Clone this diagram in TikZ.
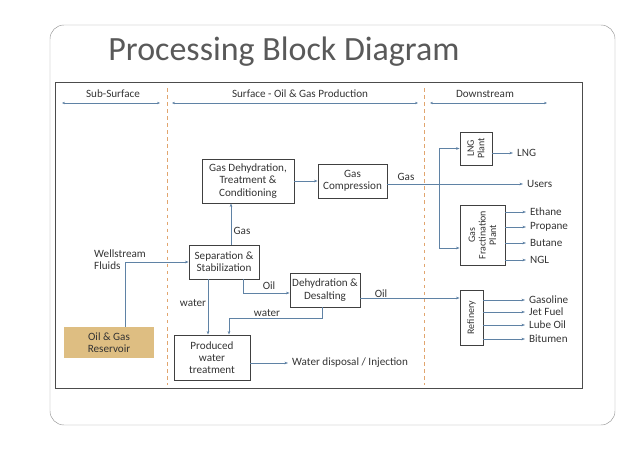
\documentclass[tikz,border=0pt]{standalone}
\usepackage{fontspec}
\setmainfont{Carlito}
\usetikzlibrary{arrows.meta}
\definecolor{flow}{RGB}{95,130,165}
\definecolor{sand}{RGB}{222,190,130}
\definecolor{zone}{RGB}{225,165,110}
\begin{document}
\begin{tikzpicture}[x=0.03cm,y=-0.03cm,
    lbl/.style={font=\fontsize{9.5}{10.5}\selectfont, text=black!80, align=center},
    box/.style={lbl, draw=black!75, thick, inner sep=0pt},
    vbox/.style={box, rotate=90, font=\fontsize{8.5}{9}\selectfont},
    line/.style={draw=flow, -{Stealth[length=3pt,width=2.2pt]}}]
  \useasboundingbox (0,0) rectangle (638,452);
  \draw[black!40, rounded corners=12pt] (50,25) rectangle (615,425);
  \node[text=black!65, font=\fontsize{29}{31}\selectfont] (title) at (284,52) {Processing Block Diagram};
  \draw[black!70] (55,82) rectangle (582,388);
  % zones
  \begin{scope}[every path/.style={draw=zone, dashed}]
    \path (167,88) -- (167,385);
    \path (424,88) -- (424,385);
  \end{scope}
  \node[lbl] (sub) at (113,94) {Sub-Surface};
  \node[lbl] (surf) at (300,94) {Surface - Oil \& Gas Production};
  \node[lbl] (down) at (485,94) {Downstream};
  \begin{scope}[every path/.style={draw=flow, {Stealth[length=2.5pt,width=2pt]}-{Stealth[length=2.5pt,width=2pt]}}]
    \path (62,103) -- (160,103);
    \path (172,103) -- (418,103);
    \path (430,103) -- (547,103);
  \end{scope}
  % process boxes
  \node[box, minimum width=92*0.03cm, minimum height=44*0.03cm] (gdh) at (248,181) {Gas Dehydration,\\Treatment \&\\Conditioning};
  \node[box, minimum width=69*0.03cm, minimum height=34*0.03cm] (gc) at (352.5,181) {Gas\\Compression};
  \node[box, minimum width=70*0.03cm, minimum height=34*0.03cm] (sep) at (224,262) {Separation \&\\Stabilization};
  \node[box, minimum width=70*0.03cm, minimum height=34*0.03cm] (dd) at (325,290) {Dehydration \&\\Desalting};
  \node[box, minimum width=76*0.03cm, minimum height=45*0.03cm] (pw) at (212,357.5) {Produced\\water\\treatment};
  \node[box, draw=none, fill=sand, minimum width=90*0.03cm, minimum height=31*0.03cm] (res) at (109,342.5) {Oil \& Gas\\Reservoir};
  \node[vbox, minimum width=33*0.03cm, minimum height=32*0.03cm] (lng) at (476,148.5) {LNG\\Plant};
  \node[vbox, minimum width=60*0.03cm, minimum height=45*0.03cm] (gf) at (482.5,235) {Gas\\Fractination\\Plant};
  \node[vbox, minimum width=55*0.03cm, minimum height=23*0.03cm] (ref) at (471.5,317.5) {Refinery};
  % labels
  \node[lbl, align=left] (wf) at (120,260) {Wellstream\\Fluids};
  \node[lbl] (gas1) at (242,231) {Gas};
  \node[lbl] (gas2) at (406,177) {Gas};
  \node[lbl] (oil1) at (269,286) {Oil};
  \node[lbl] (oil2) at (381,294) {Oil};
  \node[lbl] (w1) at (193,303) {water};
  \node[lbl] (w2) at (267,313) {water};
  \node[lbl, anchor=west] (wd) at (288,363) {Water disposal / Injection};
  \node[lbl, anchor=west] (lngo) at (513,153) {LNG};
  \node[lbl, anchor=west] (users) at (523,184) {Users};
  \node[lbl, anchor=west] (eth) at (526,212) {Ethane};
  \node[lbl, anchor=west] (pro) at (526,227) {Propane};
  \node[lbl, anchor=west] (but) at (526,243) {Butane};
  \node[lbl, anchor=west] (ngl) at (526,260) {NGL};
  \node[lbl, anchor=west] (gsl) at (525,300) {Gasoline};
  \node[lbl, anchor=west] (jet) at (525,312) {Jet Fuel};
  \node[lbl, anchor=west] (lube) at (525,325) {Lube Oil};
  \node[lbl, anchor=west] (bit) at (525,339) {Bitumen};
  % flows
  \draw[line] (res.north) ++(16,0) |- (sep.west);
  \draw[line] (sep.north -| 231,0) -- (gdh.south -| 231,0);
  \draw[line] (gdh.east) -- (gc.west);
  \draw[line] (gc.east |- 0,184) -- (users.west);
  \draw[line] (439,184) |- (lng.north);
  \draw[line] (439,184) |- (gf.north |- 0,248);
  \draw[line] (sep.south -| 208,0) -- (pw.north -| 208,0);
  \draw[line] (sep.south -| 243,0) |- (dd.west |- 0,293);
  \draw[line] (dd.south -| 322,0) -- (322,318) -| (pw.north -| 229,0);
  \draw[line] (dd.east |- 0,298) -- (ref.north |- 0,298);
  \draw[line] (pw.east |- 0,363) -- (wd.west);
  \draw[line] (lng.south |- lngo) -- (lngo.west);
  \foreach \n in {eth,pro,but,ngl}
    \draw[line] (gf.south |- \n) -- (\n.west);
  \foreach \n in {gsl,jet,lube,bit}
    \draw[line] (ref.south |- \n) -- (\n.west);
\end{tikzpicture}
\end{document}
